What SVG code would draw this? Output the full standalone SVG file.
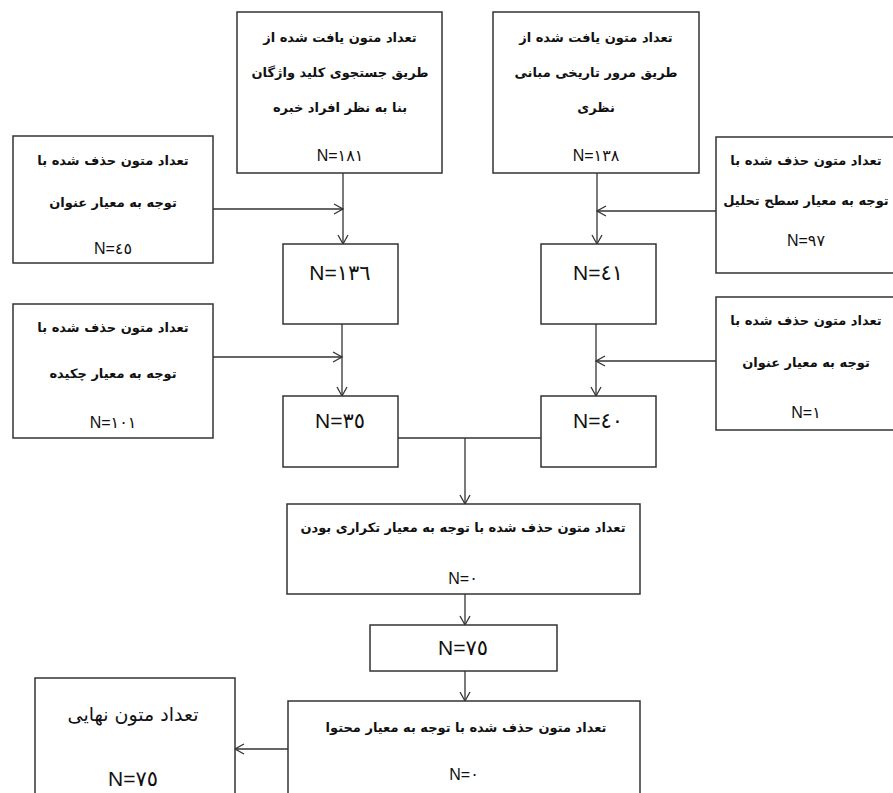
<svg xmlns="http://www.w3.org/2000/svg" width="893" height="793" viewBox="0 0 893 793">
<defs>
<marker id="ah" markerWidth="12" markerHeight="12" refX="10" refY="6" orient="auto" markerUnits="userSpaceOnUse">
<path d="M1,1 L10,6 L1,11" fill="none" stroke="#333" stroke-width="1.3"/>
</marker>
</defs>
<style>
.box{fill:#fff;stroke:#333;stroke-width:1.5}
.fa{font-family:"DejaVu Sans","Noto Sans",sans-serif;font-size:13px;font-weight:bold;fill:#111;text-anchor:middle}
.n{font-family:"Liberation Sans","DejaVu Sans",sans-serif;font-size:16px;fill:#111;text-anchor:middle}
.nb{font-family:"Liberation Sans","DejaVu Sans",sans-serif;font-size:21px;fill:#111;text-anchor:middle}
.fl{font-family:"DejaVu Sans","Noto Sans",sans-serif;font-size:19px;fill:#111;text-anchor:middle}
.c{fill:none;stroke:#333;stroke-width:1.3}
</style>
<rect width="893" height="793" fill="#fff"/>
<g id="connectors">
<line class="c" x1="343" y1="173" x2="343" y2="244" marker-end="url(#ah)"/>
<line class="c" x1="213" y1="209" x2="343" y2="209" marker-end="url(#ah)"/>
<line class="c" x1="342" y1="324" x2="342" y2="396" marker-end="url(#ah)"/>
<line class="c" x1="213" y1="357" x2="342" y2="357" marker-end="url(#ah)"/>
<line class="c" x1="597" y1="173" x2="597" y2="244" marker-end="url(#ah)"/>
<line class="c" x1="716" y1="211" x2="597" y2="211" marker-end="url(#ah)"/>
<line class="c" x1="596" y1="324" x2="596" y2="396" marker-end="url(#ah)"/>
<line class="c" x1="716" y1="361" x2="596" y2="361" marker-end="url(#ah)"/>
<line class="c" x1="398" y1="438" x2="541" y2="438"/>
<line class="c" x1="465" y1="438" x2="465" y2="504" marker-end="url(#ah)"/>
<line class="c" x1="465" y1="594" x2="465" y2="625" marker-end="url(#ah)"/>
<line class="c" x1="465" y1="671" x2="465" y2="701" marker-end="url(#ah)"/>
<line class="c" x1="288" y1="749" x2="235" y2="749" marker-end="url(#ah)"/>
</g>
<g id="search">
<rect class="box" x="237" y="12" width="205" height="161"/>
<text class="fa" x="340" y="42">تعداد متون یافت شده از</text>
<text class="fa" x="340" y="77">طریق جستجوی کلید واژگان</text>
<text class="fa" x="340" y="112">بنا به نظر افراد خبره</text>
<text class="n" x="340" y="161">N=١٨١</text>
</g>
<g id="review">
<rect class="box" x="493" y="12" width="206" height="161"/>
<text class="fa" x="596" y="42">تعداد متون یافت شده از</text>
<text class="fa" x="596" y="77">طریق مرور تاریخی مبانی</text>
<text class="fa" x="596" y="112">نظری</text>
<text class="n" x="596" y="161">N=١٣٨</text>
</g>
<g id="title45">
<rect class="box" x="13" y="136" width="200" height="127"/>
<text class="fa" x="113" y="165">تعداد متون حذف شده با</text>
<text class="fa" x="113" y="207">توجه به معیار عنوان</text>
<text class="n" x="113" y="254">N=٤٥</text>
</g>
<g id="level97">
<rect class="box" x="716" y="137" width="180" height="136"/>
<text class="fa" x="806" y="165">تعداد متون حذف شده با</text>
<text class="fa" x="806" y="205">توجه به معیار سطح تحلیل</text>
<text class="n" x="806" y="246">N=٩٧</text>
</g>
<g id="abstract101">
<rect class="box" x="13" y="304" width="200" height="134"/>
<text class="fa" x="113" y="332">تعداد متون حذف شده با</text>
<text class="fa" x="113" y="378">توجه به معیار چکیده</text>
<text class="n" x="113" y="428">N=١٠١</text>
</g>
<g id="title1">
<rect class="box" x="716" y="297" width="180" height="133"/>
<text class="fa" x="806" y="325">تعداد متون حذف شده با</text>
<text class="fa" x="806" y="367">توجه به معیار عنوان</text>
<text class="n" x="806" y="418">N=١</text>
</g>
<g id="n136">
<rect class="box" x="283" y="244" width="115" height="80"/>
<text class="nb" x="340" y="280">N=١٣٦</text>
</g>
<g id="n41">
<rect class="box" x="541" y="244" width="115" height="80"/>
<text class="nb" x="598" y="280">N=٤١</text>
</g>
<g id="n35">
<rect class="box" x="283" y="396" width="115" height="71"/>
<text class="nb" x="340" y="428">N=٣٥</text>
</g>
<g id="n40">
<rect class="box" x="541" y="396" width="115" height="71"/>
<text class="nb" x="598" y="428">N=٤٠</text>
</g>
<g id="duplicate">
<rect class="box" x="287" y="504" width="353" height="90"/>
<text class="fa" x="463" y="532">تعداد متون حذف شده با توجه به معیار تکراری بودن</text>
<text class="n" x="463" y="584">N=٠</text>
</g>
<g id="n75">
<rect class="box" x="370" y="625" width="187" height="46"/>
<text class="nb" x="463" y="655">N=٧٥</text>
</g>
<g id="content">
<rect class="box" x="288" y="701" width="352" height="95"/>
<text class="fa" x="466" y="732">تعداد متون حذف شده با توجه به معیار محتوا</text>
<text class="n" x="464" y="780">N=٠</text>
</g>
<g id="final">
<rect class="box" x="35" y="678" width="200" height="120"/>
<text class="fl" x="133" y="721">تعداد متون نهایی</text>
<text class="nb" x="133" y="786">N=٧٥</text>
</g>
</svg>
